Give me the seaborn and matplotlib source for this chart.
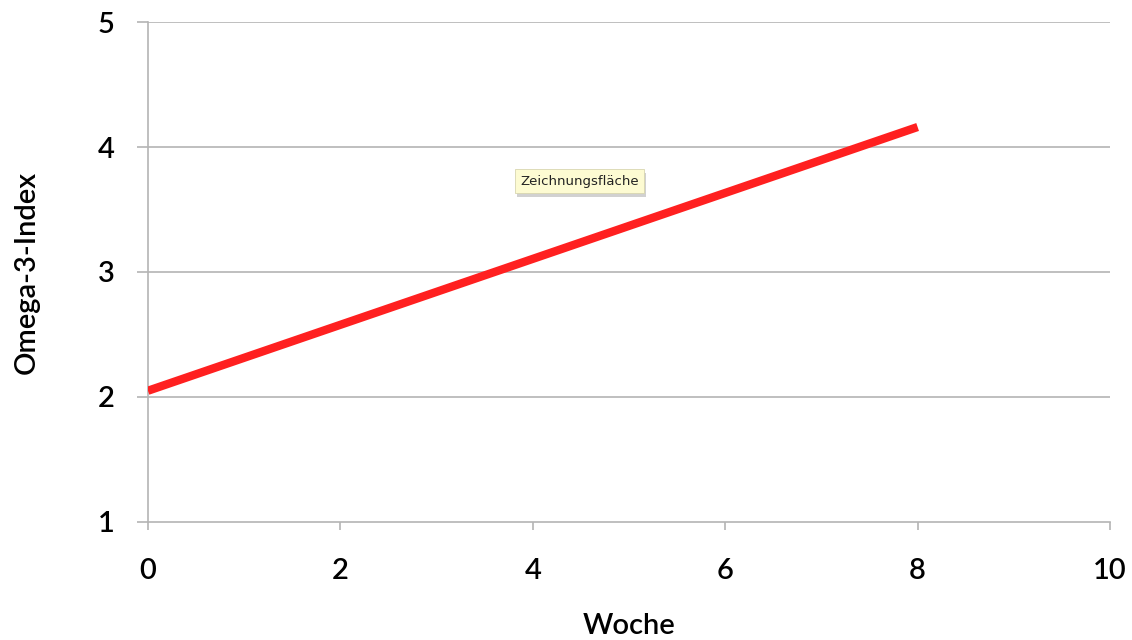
import matplotlib
matplotlib.use("Agg")
import matplotlib.pyplot as plt
import matplotlib.patheffects as pe
import seaborn as sns
import pandas as pd

# Omega-3 index over the study weeks
woche = [0, 8]
omega3_index = [2.05, 4.16]

x_ticks = [0, 2, 4, 6, 8, 10]
y_ticks = [1, 2, 3, 4, 5]

sns.set_theme(style="white")
plt.rcParams["font.family"] = ["Lato", "DejaVu Sans"]

grid_col = "#b4b4b4"

fig = plt.figure(figsize=(11.32, 6.4), dpi=100)
ax = fig.add_axes([0.1307, 0.1844, 0.8499, 0.7812])

df = pd.DataFrame({"Woche": woche, "Omega-3-Index": omega3_index})
sns.lineplot(data=df, x="Woche", y="Omega-3-Index", ax=ax,
             color="#ff2020", linewidth=6, solid_capstyle="butt", zorder=3)

ax.set_xlim(0, 10)
ax.set_ylim(1, 5)
ax.set_xticks(x_ticks)
ax.set_yticks(y_ticks)
ax.set_xticklabels([str(t) for t in x_ticks])
ax.set_yticklabels([str(t) for t in y_ticks])

for y in y_ticks[1:]:
    ax.axhline(y, color=grid_col, linewidth=1.2, zorder=1)

for side in ("top", "right"):
    ax.spines[side].set_visible(False)
for side in ("left", "bottom"):
    ax.spines[side].set_color(grid_col)
    ax.spines[side].set_linewidth(1.2)

ax.tick_params(axis="both", which="major", direction="out",
               width=1.2, color=grid_col, labelsize=21, labelcolor="black",
               bottom=True, left=True)
ax.tick_params(axis="y", length=8, pad=16)
ax.tick_params(axis="x", length=6, pad=20)
for lbl in ax.get_xticklabels() + ax.get_yticklabels():
    lbl.set_fontweight("semibold")

ax.set_xlabel("Woche", fontsize=21, color="black", labelpad=21,
              fontweight="semibold")
ax.set_ylabel("Omega-3-Index", fontsize=21, color="black", labelpad=42,
              fontweight="semibold")

# tooltip-style label over the plot area, with a soft drop shadow
tip = ax.text(3.87, 3.70, "Zeichnungsfläche", color="#222222", fontsize=9.5,
              family=["DejaVu Sans"], zorder=5,
              bbox=dict(boxstyle="square,pad=0.4", facecolor="#fdfbd2",
                        edgecolor="#d8d6b0", linewidth=0.6))
tip.get_bbox_patch().set_path_effects(
    [pe.SimplePatchShadow(offset=(1.5, -3), shadow_rgbFace="black", alpha=0.18),
     pe.Normal()])

fig.savefig("out.png", dpi=100)
